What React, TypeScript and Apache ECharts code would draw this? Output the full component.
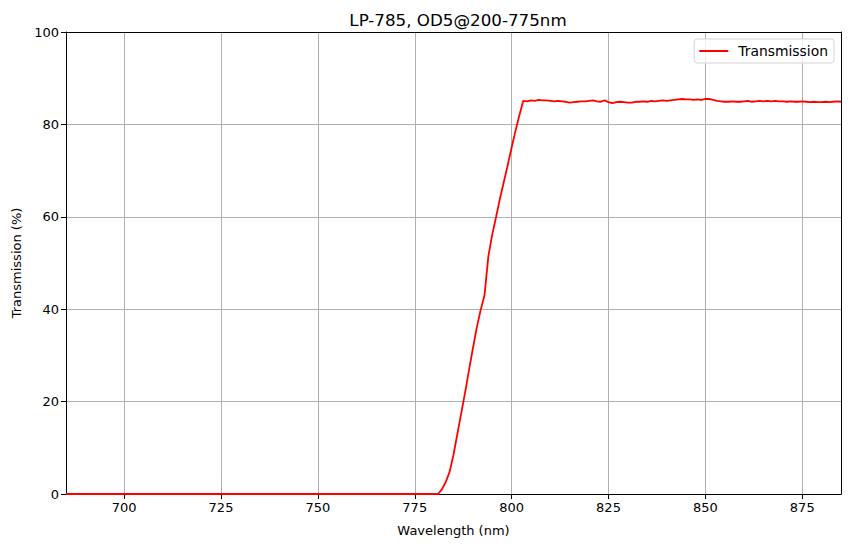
import React, { useEffect, useRef } from 'react';
import * as echarts from 'echarts';

const TITLE = 'LP-785, OD5@200-775nm';
const X_TICKS = [700, 725, 750, 775, 800, 825, 850, 875];

// blocked band (flat at 0)
const blockWl = [685, 690, 695, 700, 705, 710, 715, 720, 725, 730, 735, 740, 745, 750, 755, 760, 765, 770, 775, 780, 781];
const blockT = [0, 0, 0, 0, 0, 0, 0, 0, 0, 0, 0, 0, 0, 0, 0, 0, 0, 0, 0, 0, 0];

// edge
const edgeWl = [782, 783, 784, 785, 786, 787, 788, 789, 790, 791, 792, 793, 794, 795, 796, 797, 798, 799, 800, 801, 802];
const edgeT = [1.0, 2.6, 4.8, 8.5, 13.0, 17.5, 22.0, 26.8, 31.5, 36.0, 39.8, 43.0, 51.5, 56.2, 60.0, 64.0, 67.6, 71.2, 75.0, 78.6, 82.0];

// pass band 803..885
const passT = [
  85.1, 85.0, 85.2, 85.1, 85.3, 85.2, 85.2, 85.1, 85.0, 85.1, 85.0, 84.9, 84.7, 84.8, 84.9, 85.0,
  85.0, 85.1, 85.2, 85.0, 84.9, 85.2, 84.8, 84.6, 84.8, 84.9, 84.8, 84.7, 84.7, 84.9, 84.9, 85.0,
  84.9, 85.1, 85.0, 85.1, 85.2, 85.1, 85.2, 85.3, 85.4, 85.5, 85.4, 85.4, 85.3, 85.4, 85.3, 85.5,
  85.5, 85.3, 85.1, 85.0, 84.9, 84.9, 85.0, 84.9, 84.9, 85.0, 85.1, 84.9, 85.0, 85.1, 85.0, 85.1,
  85.0, 85.1, 85.0, 85.0, 84.9, 85.0, 84.9, 84.9, 85.0, 84.9, 84.8, 84.9, 84.8, 84.8, 84.9, 84.8,
  84.9, 85.0, 84.9,
];

const passWl = passT.map((_, i) => 803 + i);

const FONT = 'DejaVu Sans';
const FS = 13.9;

export default function App() {
  const elRef = useRef<HTMLDivElement>(null);

  useEffect(() => {
    if (!elRef.current) return;
    document.body.style.margin = '0';
    const chart = echarts.init(elRef.current, null, { renderer: 'svg' });

    const data: [number, number][] = [
      ...blockWl.map((w, i) => [w, blockT[i]] as [number, number]),
      ...edgeWl.map((w, i) => [w, edgeT[i]] as [number, number]),
      ...passWl.map((w, i) => [w, passT[i]] as [number, number]),
    ];

    const gridColor = '#b0b0b0';

    chart.setOption({
      animation: false,
      textStyle: { fontFamily: FONT },
      title: {
        text: TITLE,
        left: 453,
        top: 6,
        textAlign: 'center',
        textStyle: { fontFamily: FONT, fontSize: 16.7, fontWeight: 'normal', color: '#000' },
      },
      legend: {
        data: ['Transmission'],
        right: 16,
        top: 39,
        icon: 'rect',
        itemWidth: 29,
        itemHeight: 2,
        itemGap: 8,
        padding: [5, 6, 5, 5],
        borderColor: '#d5d5d5',
        borderWidth: 1,
        borderRadius: 3,
        backgroundColor: 'rgba(255,255,255,0.8)',
        textStyle: { fontFamily: FONT, fontSize: FS, color: '#000', padding: [0, 0, 0, 5] },
      },
      grid: { left: 66, right: 9, top: 32, bottom: 53 },
      xAxis: [
        {
          type: 'value',
          min: 685,
          max: 885,
          name: 'Wavelength (nm)',
          nameLocation: 'middle',
          nameGap: 30,
          nameTextStyle: { fontFamily: FONT, fontSize: 13, color: '#000' },
          axisLine: { show: true, onZero: false, lineStyle: { color: '#000', width: 1 } },
          axisTick: { show: true, length: 5, customValues: X_TICKS, lineStyle: { color: '#000' } },
          axisLabel: { customValues: X_TICKS, fontFamily: FONT, fontSize: 13, color: '#000', margin: 7 },
          splitLine: { show: true, customValues: X_TICKS, lineStyle: { color: gridColor, width: 1 } },
        },
        {
          type: 'value',
          min: 685,
          max: 885,
          position: 'top',
          axisLine: { show: true, onZero: false, lineStyle: { color: '#000', width: 1 } },
          axisTick: { show: false },
          axisLabel: { show: false },
          splitLine: { show: false },
        },
      ],
      yAxis: [
        {
          type: 'value',
          min: 0,
          max: 100,
          interval: 20,
          name: 'Transmission (%)',
          nameLocation: 'middle',
          nameGap: 43,
          nameTextStyle: { fontFamily: FONT, fontSize: 13, color: '#000' },
          axisLine: { show: true, onZero: false, lineStyle: { color: '#000', width: 1 } },
          axisTick: { show: true, length: 5, lineStyle: { color: '#000' } },
          axisLabel: { fontFamily: FONT, fontSize: 13, color: '#000', margin: 7 },
          splitLine: { show: true, lineStyle: { color: gridColor, width: 1 } },
        },
        {
          type: 'value',
          min: 0,
          max: 100,
          position: 'right',
          axisLine: { show: true, onZero: false, lineStyle: { color: '#000', width: 1 } },
          axisTick: { show: false },
          axisLabel: { show: false },
          splitLine: { show: false },
        },
      ],
      series: [
        {
          name: 'Transmission',
          type: 'line',
          data,
          showSymbol: false,
          symbol: 'none',
          lineStyle: { color: '#ff0000', width: 1.8 },
          itemStyle: { color: '#ff0000' },
          z: 5,
        },
      ],
    });

    return () => chart.dispose();
  }, []);

  return <div ref={elRef} style={{ width: 850, height: 547 }} />;
}
